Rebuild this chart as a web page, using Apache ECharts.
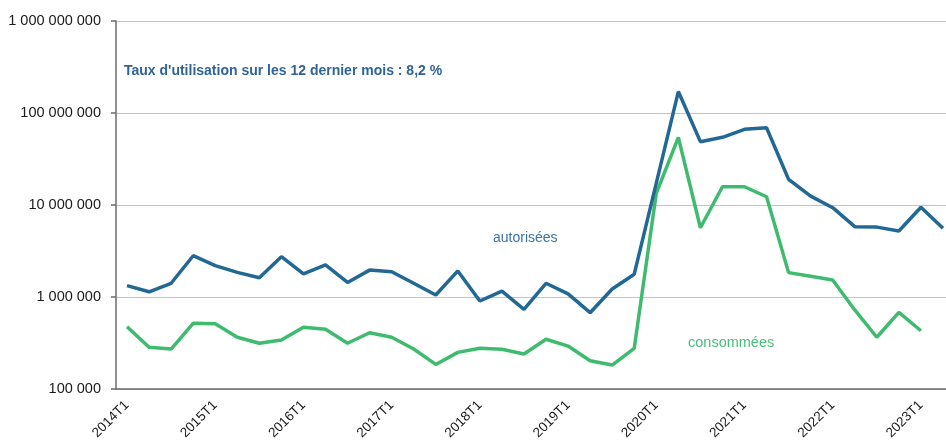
<!DOCTYPE html>
<html>
<head>
<meta charset="utf-8">
<script src="https://cdn.jsdelivr.net/npm/echarts@6/dist/echarts.min.js"></script>
<style>
  html, body { margin: 0; padding: 0; background: #fff; overflow: hidden; }
  #divChart { width: 946px; height: 443px; }
</style>
</head>
<body>
<div id="divChart"></div>
<script>
// trimestres
var categories = [
    '2014T1', '2014T2', '2014T3', '2014T4',
    '2015T1', '2015T2', '2015T3', '2015T4',
    '2016T1', '2016T2', '2016T3', '2016T4',
    '2017T1', '2017T2', '2017T3', '2017T4',
    '2018T1', '2018T2', '2018T3', '2018T4',
    '2019T1', '2019T2', '2019T3', '2019T4',
    '2020T1', '2020T2', '2020T3', '2020T4',
    '2021T1', '2021T2', '2021T3', '2021T4',
    '2022T1', '2022T2', '2022T3', '2022T4',
    '2023T1', '2023T2'
];

// heures autorisées
var autorisees = [
    1330000, 1140000, 1410000, 2810000, 2190000, 1850000, 1620000, 2740000,
    1780000, 2230000, 1440000, 1960000, 1880000, 1410000, 1050000, 1920000,
    905000, 1160000, 735000, 1410000, 1080000, 675000, 1220000, 1770000,
    17300000, 171000000, 48800000, 54400000, 66500000, 69200000, 19000000, 12500000,
    9350000, 5810000, 5750000, 5220000, 9440000, 5580000
];

// heures consommées
var consommees = [
    475000, 284000, 272000, 518000, 512000, 365000, 314000, 341000,
    469000, 446000, 314000, 409000, 365000, 272000, 185000, 250000,
    277000, 270000, 240000, 347000, 293000, 203000, 182000, 277000,
    13400000, 54400000, 5660000, 15800000, 15800000, 12300000, 1840000, 1680000,
    1530000, 723000, 365000, 682000, 430000
];

var yTicks = [100000, 1000000, 10000000, 100000000, 1000000000];

function fmtNum(v) {
    return String(v).replace(/\B(?=(\d{3})+(?!\d))/g, ' ');
}

var myChart = echarts.init(document.getElementById('divChart'));

var option = {
    animation: false,
    textStyle: { fontFamily: 'Liberation Sans' },
    grid: {
        left: 116,
        width: 838,
        top: 21,
        height: 368,
        outerBoundsMode: 'none'
    },
    xAxis: {
        type: 'category',
        data: categories,
        boundaryGap: true,
        axisLine: { lineStyle: { color: '#6b6b6b', width: 1.5 } },
        axisTick: { interval: 3, length: 5, lineStyle: { color: '#6b6b6b', width: 1.5 } },
        axisLabel: {
            interval: 3,
            rotate: 45,
            margin: 14,
            fontSize: 13.5,
            color: '#1a1a1a'
        },
        splitLine: { show: false }
    },
    yAxis: {
        type: 'log',
        logBase: 10,
        min: yTicks[0],
        max: yTicks[yTicks.length - 1],
        axisLine: { show: true, lineStyle: { color: '#6b6b6b', width: 1.5 } },
        axisTick: { show: true, length: 5, lineStyle: { color: '#6b6b6b', width: 1.5 } },
        axisLabel: {
            margin: 15,
            fontSize: 14.5,
            color: '#1a1a1a',
            formatter: function(v) { return fmtNum(v); }
        },
        splitLine: { show: true, lineStyle: { color: '#c4c4c4', width: 1.2 } }
    },
    series: [
        {
            name: 'autorisées',
            type: 'line',
            data: autorisees,
            symbol: 'none',
            lineStyle: { color: '#216895', width: 3.5 },
            z: 3
        },
        {
            name: 'consommées',
            type: 'line',
            data: consommees,
            symbol: 'none',
            lineStyle: { color: '#3fbb6f', width: 3.5 },
            z: 2
        }
    ],
    graphic: [
        {
            type: 'text',
            left: 124,
            top: 64,
            style: {
                text: "Taux d'utilisation sur les 12 dernier mois : 8,2 %",
                fontFamily: 'Liberation Sans',
                fontWeight: 'bold',
                fontSize: 14,
                fill: '#2f6496'
            }
        },
        {
            type: 'text',
            left: 493,
            top: 231,
            style: {
                text: 'autorisées',
                fontFamily: 'Liberation Sans',
                fontSize: 14,
                fill: '#3a73a6'
            }
        },
        {
            type: 'text',
            left: 688,
            top: 335,
            style: {
                text: 'consommées',
                fontFamily: 'Liberation Sans',
                fontSize: 14.5,
                fill: '#49c079'
            }
        }
    ]
};

myChart.setOption(option);
</script>
</body>
</html>
